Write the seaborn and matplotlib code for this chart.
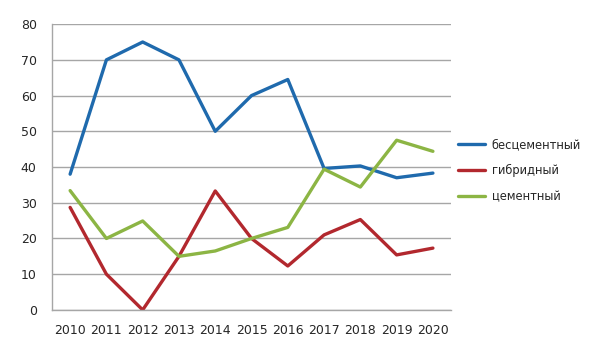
import matplotlib
matplotlib.use("Agg")
import matplotlib.pyplot as plt
import seaborn as sns
import pandas as pd
import numpy as np

years = [2010, 2011, 2012, 2013, 2014, 2015, 2016, 2017, 2018, 2019, 2020]
cementless = [38, 70, 75, 70, 50, 60, 64.5, 39.6, 40.3, 37, 38.3]
hybrid = [28.7, 10, 0, 15, 33.3, 20, 12.3, 21, 25.3, 15.4, 17.3]
cemented = [33.4, 20, 24.9, 15, 16.5, 20, 23.1, 39.4, 34.4, 47.5, 44.4]
series_names = ["бесцементный", "гибридный", "цементный"]
colors = ["#1F6AAD", "#B2282E", "#8CB544"]

rows = []
for name, vals in zip(series_names, [cementless, hybrid, cemented]):
    for i, (y, v) in enumerate(zip(years, vals)):
        rows.append({"idx": i, "year": y, "value": v, "series": name})
df = pd.DataFrame(rows)

sns.set_style("white")
plt.rcParams['font.family'] = ['DejaVu Sans']

fig = plt.figure(figsize=(6.01, 3.55), dpi=100)
ax = fig.add_axes([0.0865, 0.127, 0.664, 0.805])

sns.lineplot(data=df, x="idx", y="value", hue="series", palette=colors,
             hue_order=series_names, linewidth=2.4, ax=ax, legend=True)

ax.set_xlim(-0.5, len(years) - 0.5)
ax.set_ylim(0, 80)
ax.set_yticks(np.arange(0, 81, 10))
ax.yaxis.grid(True, color="#a6a6a6", linewidth=1)
ax.set_axisbelow(True)
ax.set_xticks(range(len(years)))
ax.set_xticklabels([str(y) for y in years])
ax.set_xticks(np.arange(-0.5, len(years), 1), minor=True)
ax.tick_params(axis="x", which="major", length=0, pad=10, labelsize=9)
ax.tick_params(axis="x", which="minor", length=5, color="#a6a6a6", width=1, direction="out")
ax.tick_params(axis="y", length=5, color="#a6a6a6", width=1, labelsize=9, pad=6)
ax.set_xlabel("")
ax.set_ylabel("")
for s in ["top", "right"]:
    ax.spines[s].set_visible(False)
for s in ["left", "bottom"]:
    ax.spines[s].set_color("#a6a6a6")
    ax.spines[s].set_linewidth(1)

ax.legend(loc="upper left", bbox_to_anchor=(0.745, 0.64), bbox_transform=fig.transFigure,
          frameon=False, fontsize=8.3, handlelength=2.3, labelspacing=1.12, handletextpad=0.6)

fig.savefig("out.png", dpi=100)
